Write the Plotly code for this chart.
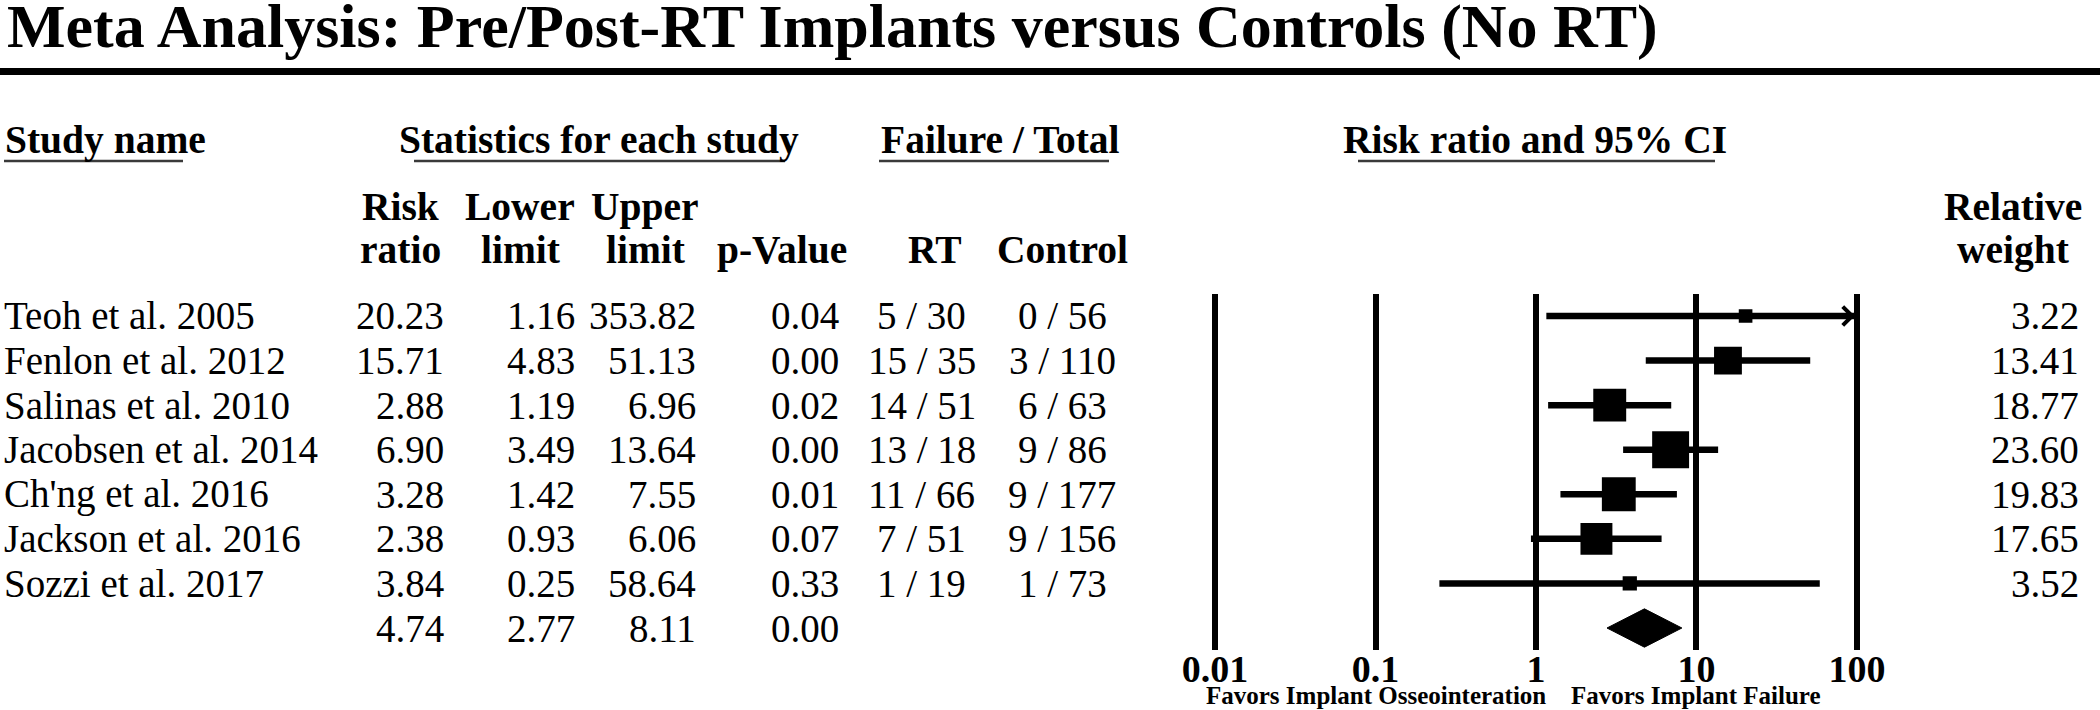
import math
import plotly.graph_objects as go

# ---------------- data ----------------
studies = ["Teoh et al. 2005", "Fenlon et al. 2012", "Salinas et al. 2010",
           "Jacobsen et al. 2014", "Ch'ng et al. 2016", "Jackson et al. 2016",
           "Sozzi et al. 2017"]
risk_ratio = [20.23, 15.71, 2.88, 6.90, 3.28, 2.38, 3.84]
lower_limit = [1.16, 4.83, 1.19, 3.49, 1.42, 0.93, 0.25]
upper_limit = [353.82, 51.13, 6.96, 13.64, 7.55, 6.06, 58.64]
p_value = [0.04, 0.00, 0.02, 0.00, 0.01, 0.07, 0.33]
rt_fail = [5, 15, 14, 13, 11, 7, 1]
rt_total = [30, 35, 51, 18, 66, 51, 19]
ctrl_fail = [0, 3, 6, 9, 9, 9, 1]
ctrl_total = [56, 110, 63, 86, 177, 156, 73]
rel_weight = [3.22, 13.41, 18.77, 23.60, 19.83, 17.65, 3.52]
summary_rr = 4.74
summary_lo = 2.77
summary_hi = 8.11
summary_p = 0.00
tick_vals = [0.01, 0.1, 1, 10, 100]
tick_text = ["0.01", "0.1", "1", "10", "100"]
favors_left = "Favors Implant Osseointeration"
favors_right = "Favors Implant Failure"
title = "Meta Analysis: Pre/Post-RT Implants versus Controls (No RT)"

# ---------------- layout helpers ----------------
W, H = 2100, 710
FONT = "Liberation Serif, Times New Roman, serif"
BODY = 39
HEAD = 39.5


def px(x):
    return x / W


def py(y):
    return 1 - y / H


n = len(studies)
rows = list(range(1, n + 1))
summary_row = n + 1
axis_max = max(tick_vals)

fig = go.Figure()

# CI lines
cx, cy = [], []
for r, lo, hi in zip(rows, lower_limit, upper_limit):
    cx += [lo, min(hi, axis_max), None]
    cy += [r, r, None]
fig.add_trace(go.Scatter(x=cx, y=cy, mode="lines",
                         line=dict(color="black", width=6.5),
                         hoverinfo="skip", showlegend=False))

# squares sized by weight
fig.add_trace(go.Scatter(
    x=risk_ratio, y=rows, mode="markers",
    marker=dict(symbol="square", color="black", opacity=1,
                size=[7.6 * math.sqrt(w) for w in rel_weight],
                line=dict(width=0)),
    showlegend=False, hoverinfo="skip"))

# summary diamond
dh = 0.43
fig.add_trace(go.Scatter(
    x=[summary_lo, summary_rr, summary_hi, summary_rr, summary_lo],
    y=[summary_row, summary_row - dh, summary_row, summary_row + dh, summary_row],
    mode="lines", fill="toself", fillcolor="black",
    line=dict(color="black", width=1), showlegend=False, hoverinfo="skip"))

ann = []


def txt(text, x, y, xanchor="left", yref="y", size=BODY, bold=False):
    ann.append(dict(text=text, x=x, y=y, xref="paper", yref=yref,
                    xanchor=xanchor, yanchor="middle", showarrow=False,
                    borderpad=0,
                    font=dict(family=FONT, size=size, color="black",
                              weight="bold" if bold else "normal")))


# title
txt(title, px(6), py(27), "left", "paper", 62, True)

# headers
txt("Study name", px(4), py(140), "left", "paper", HEAD, True)
txt("Statistics for each study", px(599), py(140), "center", "paper", HEAD, True)
txt("Failure / Total", px(1000), py(140), "center", "paper", HEAD, True)
txt("Risk ratio and 95% CI", px(1535), py(140), "center", "paper", HEAD, True)

sub = [("Risk", "ratio", 400), ("Lower", "limit", 520), ("Upper", "limit", 645),
       ("", "p-Value", 782), ("", "RT", 935), ("", "Control", 1062),
       ("Relative", "weight", 2013)]
for l1, l2, xc in sub:
    if l1:
        txt(l1, px(xc), py(207), "center", "paper", HEAD, True)
    txt(l2, px(xc), py(250), "center", "paper", HEAD, True)

# table rows
for i, r in enumerate(rows):
    txt(studies[i], px(3), r, "left")
    txt("%.2f" % risk_ratio[i], px(445), r, "right")
    txt("%.2f" % lower_limit[i], px(576), r, "right")
    txt("%.2f" % upper_limit[i], px(697), r, "right")
    txt("%.2f" % p_value[i], px(840), r, "right")
    txt("%d / %d" % (rt_fail[i], rt_total[i]), px(922), r, "center")
    txt("%d / %d" % (ctrl_fail[i], ctrl_total[i]), px(1062), r, "center")
    txt("%.2f" % rel_weight[i], px(2080), r, "right")

txt("%.2f" % summary_rr, px(445), summary_row, "right")
txt("%.2f" % summary_lo, px(576), summary_row, "right")
txt("%.2f" % summary_hi, px(697), summary_row, "right")
txt("%.2f" % summary_p, px(840), summary_row, "right")

# favours labels under axis
for lab, v in [(favors_left, 0.1), (favors_right, 10)]:
    ann.append(dict(text=lab, x=math.log10(v), y=py(695),
                    xref="x", yref="paper", xanchor="center", yanchor="middle",
                    showarrow=False, borderpad=0,
                    font=dict(family=FONT, size=25, color="black", weight="bold")))

# arrow heads for CIs truncated at the axis limit
for r, lo, hi in zip(rows, lower_limit, upper_limit):
    if hi > axis_max:
        ann.append(dict(text="", x=math.log10(axis_max), y=r, xref="x", yref="y",
                        ax=math.log10(axis_max) - 0.3, ay=r, axref="x", ayref="y",
                        showarrow=True, arrowhead=4, arrowwidth=6, arrowsize=0.6,
                        arrowcolor="black", standoff=2))

shapes = [
    dict(type="rect", xref="paper", yref="paper", x0=0, x1=1,
         y0=py(75), y1=py(68), fillcolor="black", line=dict(width=0)),
]
for x0, x1 in [(4, 183), (414, 785), (879, 1109), (1358, 1715)]:
    shapes.append(dict(type="line", xref="paper", yref="paper",
                       x0=px(x0), x1=px(x1), y0=py(161), y1=py(161),
                       line=dict(color="#3a3a3a", width=2.5)))

fig.update_layout(
    template="none",
    width=W, height=H, autosize=False,
    margin=dict(l=0, r=0, t=0, b=0, pad=0, autoexpand=False),
    paper_bgcolor="white", plot_bgcolor="white",
    showlegend=False, annotations=ann, shapes=shapes,
    xaxis=dict(type="log", range=[-2.06, 2.06],
               domain=[px(1205.4), px(1866.6)],
               tickvals=tick_vals, ticktext=tick_text, ticks="",
               ticklabelstandoff=-7,
               tickfont=dict(family=FONT, size=38, color="black", weight="bold"),
               showgrid=True, gridcolor="black", gridwidth=6,
               zeroline=False, showline=False, automargin=False),
    yaxis=dict(range=[summary_row + 0.5, 0.5],
               domain=[py(650.3), py(293.7)],
               showgrid=False, zeroline=False, showline=False,
               showticklabels=False, ticks="", automargin=False),
    font=dict(family=FONT, color="black"),
)

fig.write_html("out.html", config={"displayModeBar": False},
               post_script="document.body.style.margin='0px';")
